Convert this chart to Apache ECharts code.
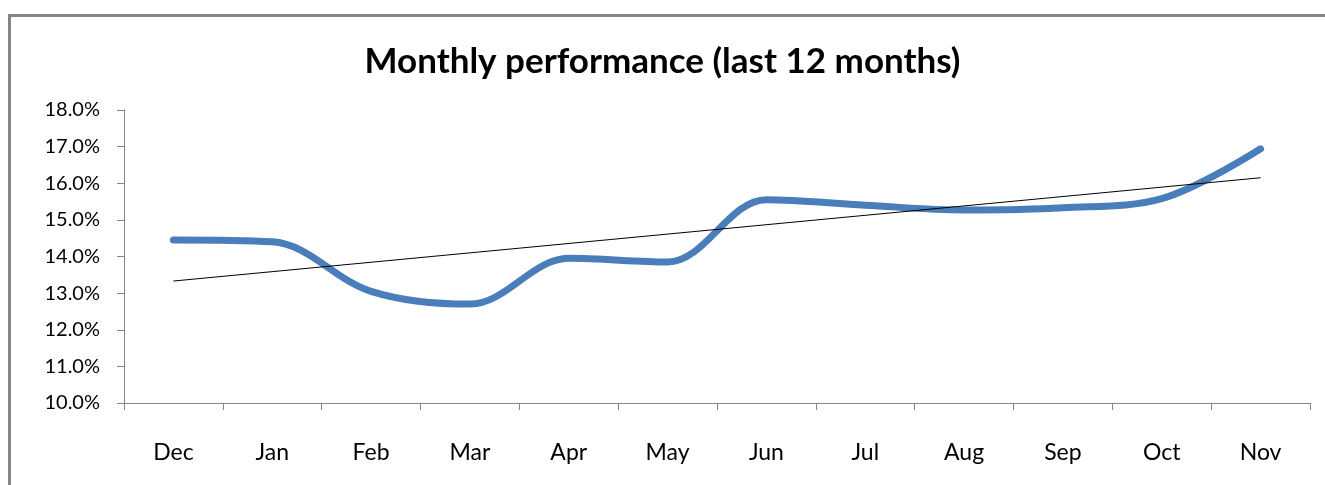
<!DOCTYPE html>
<html>
<head>
<meta charset="utf-8">
<script src="https://cdn.jsdelivr.net/npm/echarts@6/dist/echarts.min.js"></script>
<style>
html, body { margin: 0; padding: 0; background: #fff; }
#main { width: 1325px; height: 485px; }
</style>
</head>
<body>
<div id="main"></div>
<script>
// values, in percent
var months = ['Dec', 'Jan', 'Feb', 'Mar', 'Apr', 'May', 'Jun', 'Jul', 'Aug', 'Sep', 'Oct', 'Nov'];
var performance = [14.45, 14.4, 13.05, 12.7, 13.95, 13.85, 15.55, 15.4, 15.27, 15.33, 15.58, 16.94];
// linear trendline, start and end as seen in the picture
var trendStart = 13.33;
var trendEnd = 16.15;
var yTicks = { min: 10, max: 18, step: 1 };

var trend = months.map(function (m, i) {
  if (i === 0) return trendStart;
  if (i === months.length - 1) return trendEnd;
  return null;
});

var font = 'Lato, "Open Sans", sans-serif';
var chart = echarts.init(document.getElementById('main'));
var option = {
  animation: false,
  backgroundColor: '#fff',
  title: {
    text: 'Monthly performance (last 12 months)',
    left: 'center',
    top: 39,
    textStyle: { fontFamily: font, fontSize: 35, fontWeight: 'bold', color: '#000' }
  },
  graphic: [{
    type: 'rect',
    shape: { x: 9.5, y: 15.5, width: 1400, height: 600 },
    style: { fill: null, stroke: '#868686', lineWidth: 3 },
    silent: true
  }],
  grid: { left: 124, right: 15, top: 110, bottom: 82 },
  xAxis: {
    type: 'category',
    data: months,
    boundaryGap: true,
    axisLine: { lineStyle: { color: '#868686', width: 1 } },
    axisTick: { show: true, length: 7, lineStyle: { color: '#868686' } },
    axisLabel: { margin: 38, fontFamily: font, fontSize: 23, color: '#000' },
    splitLine: { show: false }
  },
  yAxis: {
    type: 'value',
    min: yTicks.min,
    max: yTicks.max,
    interval: yTicks.step,
    axisLine: { show: true, lineStyle: { color: '#868686', width: 1 } },
    axisTick: { show: true, length: 7, lineStyle: { color: '#868686' } },
    axisLabel: {
      margin: 24,
      fontFamily: font,
      fontSize: 20,
      color: '#000',
      formatter: function (v) { return v.toFixed(1) + '%'; }
    },
    splitLine: { show: false }
  },
  series: [
    {
      name: 'Performance',
      type: 'line',
      data: performance,
      smooth: 0.35,
      symbol: 'none',
      lineStyle: { color: '#4a7ebb', width: 7, cap: 'round', join: 'round' },
      z: 2
    },
    {
      name: 'Trend',
      type: 'line',
      data: trend,
      connectNulls: true,
      symbol: 'none',
      lineStyle: { color: '#000', width: 1 },
      z: 3
    }
  ]
};
chart.setOption(option);
</script>
</body>
</html>
